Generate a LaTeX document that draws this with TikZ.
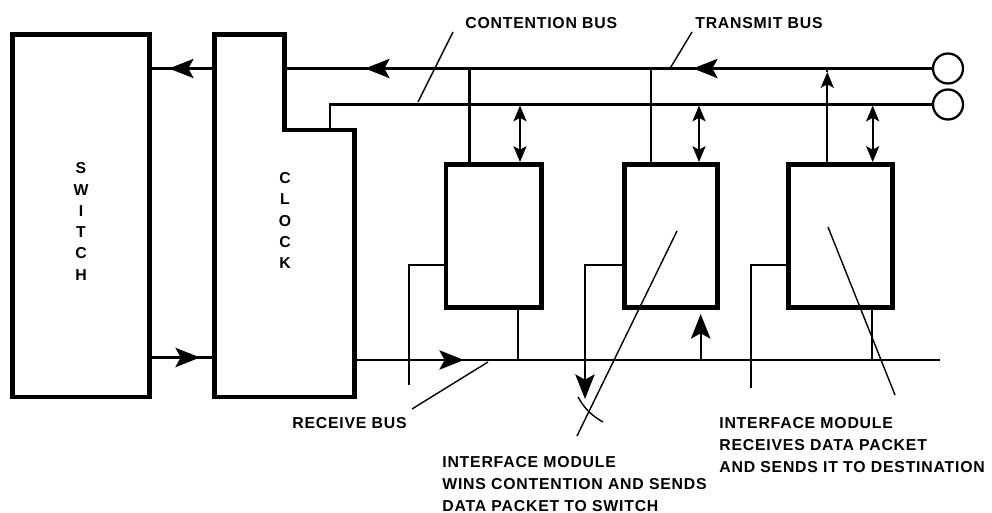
\documentclass[tikz,border=0pt]{standalone}
\usepackage{fontspec}
\setmainfont{Liberation Sans}
\newfontfamily\lblfont[LetterSpace=5]{Liberation Sans Bold}
\newfontfamily\vlblfont{Liberation Sans Bold}
\usetikzlibrary{arrows.meta}
\tikzset{
  boxline/.style={line width=2.8pt,line join=miter},
  busline/.style={line width=1.3pt},
  leader/.style={line width=0.8pt},
  lbl/.style={font=\lblfont\fontsize{9}{12.5}\selectfont,inner sep=0pt},
  vlbl/.style={font=\vlblfont\fontsize{9}{12.1}\selectfont,inner sep=0pt,align=center},
  module/.style={draw,boxline,minimum height=2.86cm,inner sep=0pt},
  bigtip/.style={-{Stealth[length=14pt,width=11pt,inset=3pt]}},
  smalltip/.style={{Stealth[length=9pt,width=7.4pt,inset=2pt]}-{Stealth[length=9pt,width=7.4pt,inset=2pt]}},
  uptip/.style={-{Stealth[length=9pt,width=7.4pt,inset=2pt]}},
}

\begin{document}
\begin{tikzpicture}[x=0.02cm,y=-0.02cm]
\useasboundingbox (0,0) rectangle (992,513);

% Define the switch and the clock.
\node[draw,boxline,minimum width=2.74cm,minimum height=7.25cm,inner sep=0pt] (switch) at (81,215.75) {};
\node[vlbl] (switchtxt) at (81,221.5) {S\\W\\I\\T\\C\\H};

\coordinate (ck1) at (214.5,34.5);
\coordinate (ck2) at (284.5,34.5);
\coordinate (ck3) at (284.5,130);
\coordinate (ck4) at (354.5,130);
\coordinate (ck5) at (354.5,397);
\coordinate (ck6) at (214.5,397);
\draw[boxline] (ck1) -- (ck2) -- (ck3) -- (ck4) -- (ck5) -- (ck6) -- cycle;
\node[vlbl] (clocktxt) at (285,220.5) {C\\L\\O\\C\\K};

% Define the interface modules.
\node[module,minimum width=1.91cm] (mod1) at (493.75,236) {};
\node[module,minimum width=1.86cm] (mod2) at (671,236) {};
\node[module,minimum width=2.08cm] (mod3) at (840.5,236) {};

% The bus ends.
\node[draw,busline,circle,minimum size=0.6cm,inner sep=0pt] (tend) at (948,68.5) {};
\node[draw,busline,circle,minimum size=0.6cm,inner sep=0pt] (cend) at (948,104.5) {};

% Switch <-> clock.
\coordinate (sc1) at (214.5,68.5);
\coordinate (sc1tip) at (169,68.5);
\draw[busline] (sc1) -- (sc1 -| switch.east);
\draw[busline,bigtip] (sc1) -- (sc1tip);
\coordinate (sc2) at (149.5,357.5);
\coordinate (sc2tip) at (200,357.5);
\draw[busline] (sc2) -- (sc2 -| ck6);
\draw[busline,bigtip] (sc2) -- (sc2tip);

% Transmit bus.
\coordinate (tb0) at (284.5,68.5);
\coordinate (tbtip1) at (365,68.5);
\coordinate (tbtip2) at (693,68.5);
\draw[busline] (tend.west) -- (tb0);
\draw[busline,bigtip] (tend.west) -- (tbtip2);
\draw[busline,bigtip] (tbtip2) -- (tbtip1);

% Contention bus.
\coordinate (cb0) at (330,104.5);
\draw[busline] (cend.west) -- (cb0) -- (cb0 |- ck3);

% Receive bus.
\coordinate (rb0) at (354.5,360);
\coordinate (rbtip) at (464,360);
\coordinate (rb1) at (940,360);
\draw[busline] (rb0) -- (rb1);
\draw[busline,bigtip] (rb0) -- (rbtip);

% Taps of module 1.
\coordinate (m1t) at (469.5,68.5);
\draw[busline] (m1t) -- (m1t |- mod1.north);
\coordinate (m1c) at (520,105.5);
\draw[busline,smalltip] (m1c) -- (m1c |- mod1.north);
\coordinate (m1r) at (518.3,360);
\draw[busline] (m1r) -- (m1r |- mod1.south);
\coordinate (m1s) at (409.3,265);
\draw[busline] (m1s -| mod1.west) -- (m1s) -- (409.3,385);

% Taps of module 2.
\coordinate (m2t) at (651,68.5);
\draw[busline] (m2t) -- (m2t |- mod2.north);
\coordinate (m2c) at (699,105.5);
\draw[busline,smalltip] (m2c) -- (m2c |- mod2.north);
\coordinate (m2r) at (700.7,360);
\draw[busline,bigtip] (m2r) -- (700.7,314);
\coordinate (m2s) at (585,265);
\draw[busline,bigtip] (m2s -| mod2.west) -- (m2s) -- (585,399);

% Taps of module 3.
\coordinate (m3t) at (827.3,72);
\draw[busline] (m3t) -- (827.3,68.5);
\draw[busline,uptip] (m3t |- mod3.north) -- (m3t);
\coordinate (m3c) at (872.7,105.5);
\draw[busline,smalltip] (m3c) -- (m3c |- mod3.north);
\coordinate (m3r) at (871.7,360);
\draw[busline] (m3r) -- (m3r |- mod3.south);
\coordinate (m3s) at (750.7,265);
\draw[busline] (m3s -| mod3.west) -- (m3s) -- (750.7,388);

% Labels and their leaders.
\node[lbl,anchor=west] (cbtxt) at (465,23.5) {CONTENTION BUS};
\draw[leader] (418,102) -- (453,32);
\node[lbl,anchor=west] (tbtxt) at (695,23.5) {TRANSMIT BUS};
\draw[leader] (670,68.5) -- (692,32);
\node[lbl,anchor=west] (rbtxt) at (292,423) {RECEIVE BUS};
\draw[leader] (488,362) -- (412,409);

\draw[leader] (677,231) -- (577,436);
\draw[leader] (578,397) to[bend right=15] (603,422);
\node[lbl,anchor=north west,align=left] (m2txt) at (442,456)
  {INTERFACE MODULE\\WINS CONTENTION AND SENDS\\DATA PACKET TO SWITCH};

\draw[leader] (828,227) -- (895,395);
\node[lbl,anchor=north west,align=left] (m3txt) at (719,417.5)
  {INTERFACE MODULE\\RECEIVES DATA PACKET\\AND SENDS IT TO DESTINATION};

\end{tikzpicture}
\end{document}
